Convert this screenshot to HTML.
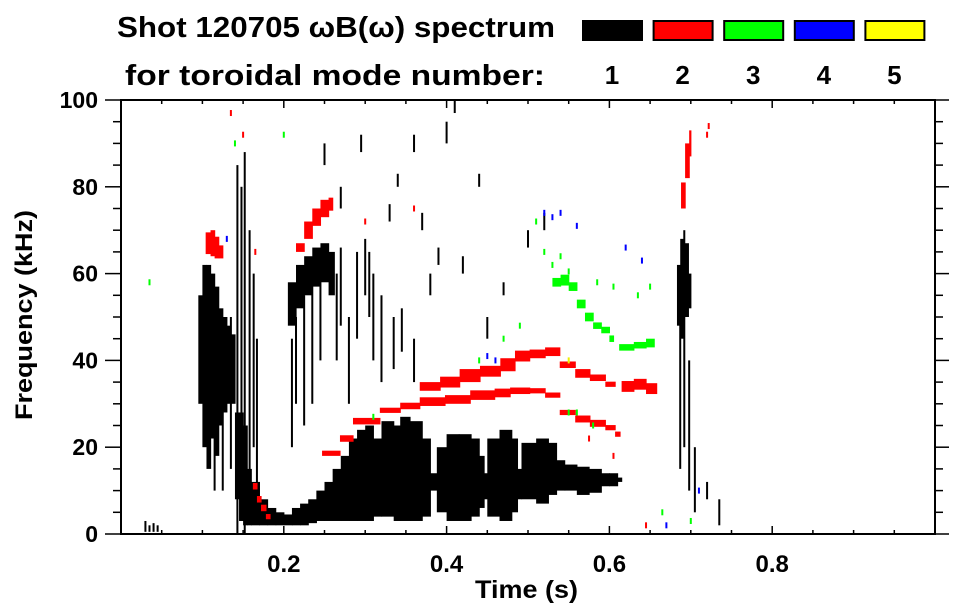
<!DOCTYPE html>
<html><head><meta charset="utf-8"><style>
html,body{margin:0;padding:0;background:#fff;width:963px;height:615px;overflow:hidden}
svg{display:block;font-family:"Liberation Sans",Arial,sans-serif;font-weight:bold}
</style></head><body>
<svg id="chart" width="963" height="615" viewBox="0 0 963 615" xmlns="http://www.w3.org/2000/svg">
<text x="117" y="37" font-size="29" textLength="438" lengthAdjust="spacingAndGlyphs">Shot 120705 ωB(ω) spectrum</text>
<text x="125" y="85" font-size="29" textLength="420" lengthAdjust="spacingAndGlyphs">for toroidal mode number:</text>
<g id="legend"></g>
<g id="marks"></g>
<rect x="121" y="100" width="814" height="434" fill="none" stroke="#000" stroke-width="2"/>
<g id="axes"></g>
<text x="475" y="598" font-size="25" textLength="103" lengthAdjust="spacingAndGlyphs">Time (s)</text>
<text transform="translate(32,420) rotate(-90)" font-size="24" textLength="210" lengthAdjust="spacingAndGlyphs">Frequency (kHz)</text>
</svg>
<script>
// ---- data ----
const modeLabels = ["1","2","3","4","5"];
const modeColors = ["#000000","#ff0000","#00ff00","#0000ff","#ffff00"];
const xTicks = [0.2,0.4,0.6,0.8];
const xTickLabels = ["0.2","0.4","0.6","0.8"];
const yTicks = [0,20,40,60,80,100];
const yTickLabels = ["0","20","40","60","80","100"];

// mode 1 (black) main band columns: time, low freq, high freq
const blackT  = [.095,.100,.105,.110,.115,.120,.125,.130,.135,.140,.145,.150,.155,.160,.170,.180,.190,.200,.210,.220,.230,.240,.250,.260,.270,.280,.290,.300,.310,.320,.335,.343,.355,.370,.380,.388,.400,.415,.430,.440,.446,.450,.465,.480,.487,.492,.510,.525,.535,.545,.560,.575,.590,.600,.610,.615];
const blackLo = [30,20,15,22,18,25,28,30,30,8,3,2,2,2,2,2,2,2,2,2,2.5,3,3,3,3,3,3,3,4,4,3,3,3,4,10,5,3,3,4,6,8,4,3,5,8,8,7,9,10,10,9,9.5,11,11,12,12];
const blackHi = [55,62,62,60,57,52,50,48,46,28,28,25,15,12,8,6,5,4.5,6,7,8,10,12,15,18,22,24,25,22,26,25,27,26,22,14,20,23,23,22,18,14,22,24,22,15,21,22,21,17,16,15.5,15,14,14,13,13];
// mode 1 upper patches
const blackUpT  = [.205,.215,.225,.235,.245,.255,.262];
const blackUpLo = [48,52,55,57,58,55,55];
const blackUpHi = [58,62,64,66,67,65,65];
const blackRightT  = [.683,.687,.692,.697,.700];
const blackRightLo = [48,45,50,52,52];
const blackRightHi = [62,68,67,60,60];
// mode 1 streaks: time, low, high
const streakT  = [.03,.035,.04,.045,.115,.125,.135,.143,.148,.152,.158,.163,.167,.21,.215,.225,.235,.245,.265,.27,.28,.29,.30,.305,.31,.32,.335,.345,.36,.27,.295,.34,.37,.40,.42,.45,.52,.687,.692,.698,.705,.72,.735,.38,.39,.25,.33,.44,.47,.50,.36,.41];
const streakLo = [.5,.5,.5,.5,10,10,15,0,5,0,10,20,8,20,30,25,30,40,40,48,30,45,55,50,40,35,38,42,35,75,88,80,70,90,60,45,70,15,20,10,5,8,2,55,62,85,72,80,55,66,88,97];
const streakHi = [3,2,2.5,2,40,45,50,85,80,88,70,60,45,45,50,55,62,65,60,66,50,65,68,65,60,55,50,52,45,80,92,83,74,95,64,50,74,50,70,40,20,12,8,60,66,90,76,83,58,70,92,100];

// mode 2 (red) tracks: time, centre freq, width
const redLowT = [.247,.269,.285,.318,.343,.367,.398,.429,.459,.478,.502,.521,.539,.558,.576,.595,.607,.613];
const redLowF = [18.6,22,26,28.5,29.5,30.5,31,32,32.5,33,33,32,28,26.5,25.5,24.5,23,22];
const redLowW = [1.2,1.5,1.5,1.2,1.5,2,2,2.2,2,1.5,1.2,1.2,1.2,1.6,1.6,1.2,1.2,1.2];
const redUpT = [.367,.392,.416,.441,.466,.484,.502,.521,.539,.558,.576,.595,.607];
const redUpF = [34,35,36.5,37.5,39,41,41.5,42,39,37,36,34.5,34];
const redUpW = [2,2.5,3,2.5,3,2.5,2,2,1.5,2,1.5,1.2,1.2];
const redSegT = [.615,.630,.645,.658];
const redSegF = [34,34.5,33.5,33.5];
const redSegW = [2.5,2.5,2.5,2.5];
const redEarlyT = [.104,.110,.115,.120,.125];
const redEarlyF = [67,67,66,65,65];
const redEarlyW = [5,6,5,3,3];
const redMidT = [.215,.225,.235,.245,.255,.260];
const redMidF = [66,70,73,75,76,76];
const redMidW = [2,4,4,4,3,3];
const redUT = [.162,.167,.172,.178,.183];
const redUF = [11,8,6,4,4];
const redUW = [1.5,1.5,1.5,1.2,1.2];
const redTopT = [.688,.693,.698,.700];
const redTopF = [78,86,90,90];
const redTopW = [6,8,6,6];
const redDotT = [.72,.722,.135,.15,.165,.30,.36,.575,.605,.645];
const redDotF = [92,94,97,92,65,72,75,22,18,2];

// mode 3 (green) tracks
const greenT = [.530,.540,.550,.560,.570,.580,.590,.600,.605];
const greenF = [58,58.5,57,53,50,48,47,45,45];
const greenW = [2,2.5,2,2,2,1.5,1.5,1.5,1.5];
const greenSegT = [.612,.630,.645,.655];
const greenSegF = [43,43.5,44,44];
const greenSegW = [1.5,1.5,2,2];
const greenDotT = [.52,.54,.55,.585,.605,.635,.65,.47,.44,.49,.55,.56,.58,.14,.20,.31,.035,.665,.70,.51,.53];
const greenDotF = [65,64,60.5,58,57,55,57,45,40,48,28,28,25,90,92,27,58,5,3,72,62];
// mode 4 (blue) and mode 5 (yellow) dots
const blueDotT = [.52,.53,.54,.56,.45,.46,.13,.67,.71,.62,.64];
const blueDotF = [74,73,74,71,41,40,68,2,10,66,63];
const yellowDotT = [.55];
const yellowDotF = [40];

// ---- axes ----
const X0=121, X1=935, Y0=534, Y1=100;
function X(t){return X0 + t*(X1-X0)/1.0;}
function Y(f){return Y0 - f*(Y0-Y1)/100;}
const NS="http://www.w3.org/2000/svg";
function mk(tag, parent, attrs){
  const e=document.createElementNS(NS,tag);
  for(const k in attrs) e.setAttribute(k,attrs[k]);
  parent.appendChild(e); return e;
}
const marks=document.getElementById('marks');
const axes=document.getElementById('axes');
const legend=document.getElementById('legend');

// legend
for(let i=0;i<modeLabels.length;i++){
  const lx=582+i*70.6;
  const r=mk('rect',legend,{x:lx+1,y:21,width:59,height:19,fill:modeColors[i],stroke:'#000','stroke-width':2});
  
  
  const t=mk('text',legend,{x:lx+30,y:84,'font-size':26,'text-anchor':'middle'});
  t.textContent=modeLabels[i];
  
  
}

function columns(T,Lo,Hi,color,name){
  for(let i=0;i<T.length-1;i++){
    const x=X(T[i]), w=X(T[i+1])-x+0.6;
    const r=mk('rect',marks,{x:x,y:Y(Hi[i]),width:w,height:Y(Lo[i])-Y(Hi[i]),fill:color});
    
    
  }
}
function track(T,F,W,color,name){
  for(let i=0;i<T.length-1;i++){
    const x=X(T[i]), w=X(T[i+1])-x+0.6;
    const r=mk('rect',marks,{x:x,y:Y(F[i]+W[i]/2),width:w,height:Y(F[i]-W[i]/2)-Y(F[i]+W[i]/2),fill:color});
    
    
  }
}
function dots(T,F,color,name){
  for(let i=0;i<T.length;i++){
    const r=mk('rect',marks,{x:X(T[i])-1,y:Y(F[i])-3,width:2,height:6,fill:color});
    
    
  }
}
columns(blackT,blackLo,blackHi,'#000','mode1-band');
columns(blackUpT,blackUpLo,blackUpHi,'#000','mode1-upper-patch');
columns(blackRightT,blackRightLo,blackRightHi,'#000','mode1-right-patch');
for(let i=0;i<streakT.length;i++){
  const r=mk('rect',marks,{x:X(streakT[i])-1,y:Y(streakHi[i]),width:2,height:Y(streakLo[i])-Y(streakHi[i]),fill:'#000'});
  
  
}
track(redLowT,redLowF,redLowW,'#f00','mode2-lower-track');
track(redUpT,redUpF,redUpW,'#f00','mode2-upper-track');
track(redSegT,redSegF,redSegW,'#f00','mode2-late-segment');
track(redEarlyT,redEarlyF,redEarlyW,'#f00','mode2-early-patch');
track(redMidT,redMidF,redMidW,'#f00','mode2-mid-patch');
track(redUT,redUF,redUW,'#f00','mode2-dip-track');
track(redTopT,redTopF,redTopW,'#f00','mode2-top-patch');
dots(redDotT,redDotF,'#f00','mode2-dot');
track(greenT,greenF,greenW,'#0f0','mode3-track');
track(greenSegT,greenSegF,greenSegW,'#0f0','mode3-segment');
dots(greenDotT,greenDotF,'#0f0','mode3-dot');
dots(blueDotT,blueDotF,'#00f','mode4-dot');
dots(yellowDotT,yellowDotF,'#ee0','mode5-dot');

// ticks
function line(x1,y1,x2,y2,name){
  const l=mk('line',axes,{x1:x1,y1:y1,x2:x2,y2:y2,stroke:'#000','stroke-width':1.5});
  
  
}
for(let k=1;k<20;k++){
  const t=k*0.05, x=X(t), major=(k%4===0);
  const L=major?8:4;
  line(x,Y0,x,Y0-L,'x-tick-bottom');
  line(x,Y1,x,Y1+L,'x-tick-top');
}
for(let k=0;k<=20;k++){
  const f=k*5, y=Y(f), major=(k%4===0);
  line(X0,y,X0-(major?16:8),y,'y-tick-left');
  line(X1,y,X1+(major?14:8),y,'y-tick-right');
}
for(let i=0;i<xTicks.length;i++){
  const t=mk('text',axes,{x:X(xTicks[i]),y:572,'font-size':24,'text-anchor':'middle'});
  t.textContent=xTickLabels[i];
  
  
}
for(let i=0;i<yTicks.length;i++){
  const t=mk('text',axes,{x:98,y:Y(yTicks[i])+8,'font-size':23,'text-anchor':'end'});
  t.textContent=yTickLabels[i];
  
  
}
</script>
</body></html>
